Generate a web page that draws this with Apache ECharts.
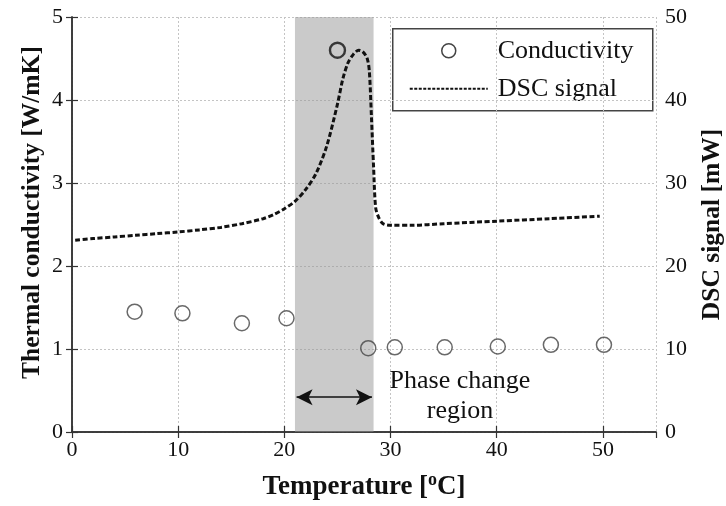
<!DOCTYPE html>
<html>
<head>
<meta charset="utf-8">
<script src="https://cdn.jsdelivr.net/npm/echarts@6/dist/echarts.min.js"></script>
<style>
  html, body { margin: 0; padding: 0; background: #fff; }
  #chart { width: 726px; height: 506px; }
</style>
</head>
<body>
<div id="chart"></div>
<script>
// Measured thermal conductivity (temperature in °C, W/mK)
const condTemp = [5.9, 10.4, 16.0, 20.2, 25.0, 27.9, 30.4, 35.1, 40.1, 45.1, 50.1];
const condValue = [1.45, 1.43, 1.31, 1.37, 4.60, 1.01, 1.02, 1.02, 1.03, 1.05, 1.05];

// DSC heat-flow trace (temperature in °C, mW)
const dscTemp = [0.3, 2, 4, 6, 8, 10, 12, 14, 16, 18, 19, 20, 21, 22, 23, 24, 25, 25.5, 26, 26.5, 27, 27.4, 27.8, 28.0, 28.2, 28.4, 28.6, 28.9, 29.3, 30, 32, 35, 40, 45, 49.7];
const dscValue = [23.1, 23.3, 23.5, 23.7, 23.9, 24.1, 24.35, 24.65, 25.1, 25.7, 26.2, 26.9, 27.8, 29.2, 31.2, 34.5, 39.5, 42.5, 44.5, 45.5, 46.0, 45.8, 45.0, 43.5, 38.0, 32.0, 27.0, 25.8, 25.1, 24.9, 24.9, 25.1, 25.4, 25.7, 26.0];

// Phase change window (°C)
const phaseStart = 21.0;
const phaseEnd = 28.4;
const arrowLevel = 0.42;

const serif = '"Liberation Serif", "DejaVu Serif", serif';
const axisColor = '#333';
const textColor = '#111';

const chart = echarts.init(document.getElementById('chart'), null, { renderer: 'canvas' });

const condData = condTemp.map((t, i) => {
  const item = { value: [t, condValue[i]] };
  if (condValue[i] > 4) {
    item.itemStyle = { borderColor: '#111', borderWidth: 2.4 };
  }
  return item;
});
const dscData = dscTemp.map((t, i) => [t, dscValue[i]]);

const tickCommon = { show: true, inside: true, length: 6, lineStyle: { color: axisColor, width: 1.2 } };
const labelCommon = { fontFamily: serif, fontSize: 22, color: textColor };
const titleStyle = { fontFamily: serif, fontSize: 25.5, fontWeight: 'bold', color: textColor };

chart.setOption({
  animation: false,
  backgroundColor: '#fff',
  grid: { left: 72, right: 70, top: 17, bottom: 74, containLabel: false, outerBoundsMode: 'none' },
  xAxis: [
    {
      type: 'value', min: 0, max: 55, interval: 10, position: 'bottom',
      name: 'Temperature [{sup|o}C]', nameLocation: 'middle', nameGap: 39,
      nameTextStyle: {
        fontFamily: serif, fontSize: 27, fontWeight: 'bold', color: textColor,
        rich: { sup: { fontFamily: serif, fontSize: 18, fontWeight: 'bold', color: textColor, verticalAlign: 'top', padding: [0, 0, 14, 0] } }
      },
      axisLine: { show: true, lineStyle: { color: axisColor, width: 1.5 } },
      axisTick: tickCommon,
      axisLabel: Object.assign({ margin: 7, showMaxLabel: false }, labelCommon),
      splitLine: { show: true, lineStyle: { color: '#c4c4c4', type: [2, 2], width: 1 } }
    },
    {
      type: 'value', min: 0, max: 55, interval: 10, position: 'top',
      axisLine: { show: true, lineStyle: { color: axisColor, width: 1.5 } },
      axisTick: tickCommon,
      axisLabel: { show: false },
      splitLine: { show: false }
    }
  ],
  yAxis: [
    {
      type: 'value', min: 0, max: 5, interval: 1, position: 'left',
      name: 'Thermal conductivity [W/mK]', nameLocation: 'middle', nameGap: 27, nameRotate: 90,
      nameMoveOverlap: false,
      nameTextStyle: Object.assign({ padding: [0, 0, 0, 24] }, titleStyle),
      axisLine: { show: true, lineStyle: { color: axisColor, width: 1.5 } },
      axisTick: tickCommon,
      axisLabel: Object.assign({ margin: 9 }, labelCommon),
      splitLine: { show: true, lineStyle: { color: '#c4c4c4', type: [2, 2], width: 1 } }
    },
    {
      type: 'value', min: 0, max: 50, interval: 10, position: 'right',
      name: 'DSC signal [mW]', nameLocation: 'middle', nameGap: 43, nameRotate: 90,
      nameTextStyle: titleStyle,
      axisLine: { show: true, lineStyle: { color: axisColor, width: 1.5 } },
      axisTick: tickCommon,
      axisLabel: Object.assign({ margin: 9 }, labelCommon),
      splitLine: { show: false }
    }
  ],
  series: [
    {
      name: 'Conductivity', type: 'scatter', xAxisIndex: 0, yAxisIndex: 0,
      symbol: 'circle', symbolSize: 15, z: 4,
      itemStyle: { color: 'rgba(255,255,255,0)', borderColor: '#444', borderWidth: 1.5 },
      data: condData,
      markArea: {
        silent: true,
        itemStyle: { color: 'rgba(150,150,150,0.5)' },
        data: [[{ xAxis: phaseStart }, { xAxis: phaseEnd }]]
      },
      markLine: {
        silent: true,
        symbol: ['arrow', 'arrow'], symbolSize: [12, 16],
        label: { show: false },
        lineStyle: { color: '#111', type: 'solid', width: 1.5 },
        data: [[{ coord: [phaseStart + 0.15, arrowLevel] }, { coord: [phaseEnd - 0.15, arrowLevel] }]]
      }
    },
    {
      name: 'DSC signal', type: 'line', xAxisIndex: 0, yAxisIndex: 1,
      showSymbol: false, smooth: 0.3, z: 3,
      lineStyle: { color: '#111', width: 3, type: [5, 2.5] },
      data: dscData
    }
  ],
  graphic: [
    {
      type: 'group', left: 392, top: 28, z: 100,
      children: [
        { type: 'rect', shape: { x: 0, y: 0, width: 260, height: 82 }, style: { fill: '#fff', stroke: '#444', lineWidth: 1.5 } },
        { type: 'circle', shape: { cx: 56, cy: 22, r: 7 }, style: { fill: 'none', stroke: '#444', lineWidth: 1.5 } },
        { type: 'text', x: 105, y: 22, style: { text: 'Conductivity', font: '26px ' + serif, fill: textColor, verticalAlign: 'middle' } },
        { type: 'line', shape: { x1: 17, y1: 60, x2: 95, y2: 60 }, style: { stroke: '#111', lineWidth: 2, lineDash: [3, 1.5] } },
        { type: 'text', x: 105, y: 60, style: { text: 'DSC signal', font: '26px ' + serif, fill: textColor, verticalAlign: 'middle' } }
      ]
    },
    {
      type: 'text', x: 460, y: 366, z: 100,
      style: { text: 'Phase change\nregion', font: '26px ' + serif, fill: textColor, lineHeight: 30, align: 'center' }
    }
  ]
});
</script>
</body>
</html>
